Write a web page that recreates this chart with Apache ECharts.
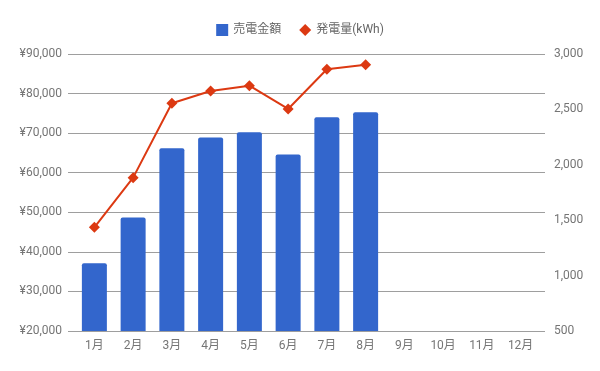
<!DOCTYPE html>
<html>
<head>
<meta charset="utf-8">
<script src="https://cdn.jsdelivr.net/npm/echarts@6/dist/echarts.min.js"></script>
<style>
html,body{margin:0;padding:0;background:#fff;}
#c{width:600px;height:371px;}
</style>
</head>
<body>
<div id="c"></div>
<script>
const months = ['1月','2月','3月','4月','5月','6月','7月','8月','9月','10月','11月','12月'];
const salesAmount = [37100, 48700, 66200, 68900, 70200, 64600, 74000, 75300, 0, 0, 0, 0];
const generation = [1436, 1884, 2555, 2666, 2714, 2504, 2862, 2904, null, null, null, null];
const seriesNames = ['売電金額', '発電量(kWh)'];

const chart = echarts.init(document.getElementById('c'));
const fontFamily = 'Roboto, "Noto Sans CJK JP", sans-serif';
const labelColor = '#757575';
chart.setOption({
  animation: false,
  textStyle: { fontFamily: fontFamily },
  legend: {
    top: 19,
    left: 'center',
    itemGap: 18,
    itemWidth: 12,
    itemHeight: 12,
    textStyle: { color: '#666666', fontSize: 12, fontFamily: fontFamily },
    data: [
      { name: seriesNames[0], icon: 'rect' },
      { name: seriesNames[1], icon: 'diamond' }
    ]
  },
  grid: [
    { left: 68, right: 55, top: 54, bottom: 40 },
    { left: 75, right: 60, top: 54, bottom: 40 }
  ],
  xAxis: [
    { gridIndex: 0, type: 'value', show: false, min: 0, max: 1 },
    {
      gridIndex: 1, type: 'category', data: months,
      axisLine: { show: false }, axisTick: { show: false },
      axisLabel: { color: labelColor, fontSize: 12, margin: 9, fontFamily: fontFamily }
    }
  ],
  yAxis: [
    {
      gridIndex: 0, type: 'value', min: 20000, max: 90000, interval: 10000,
      axisLine: { show: false }, axisTick: { show: false },
      axisLabel: { color: labelColor, fontSize: 12, margin: 6, fontFamily: fontFamily,
        formatter: v => '¥' + v.toLocaleString('en-US') },
      splitLine: { lineStyle: { color: '#9e9e9e', width: 1 } }
    },
    {
      gridIndex: 0, type: 'value', position: 'right', min: 500, max: 3000, interval: 500,
      axisLine: { show: false }, axisTick: { show: false },
      axisLabel: { color: labelColor, fontSize: 12, margin: 9, fontFamily: fontFamily,
        formatter: v => v.toLocaleString('en-US') },
      splitLine: { show: false }
    },
    { gridIndex: 1, type: 'value', min: 20000, max: 90000, interval: 10000, startValue: 20000, show: false, splitLine: { show: false } },
    { gridIndex: 1, type: 'value', position: 'right', min: 500, max: 3000, interval: 500, show: false, splitLine: { show: false } }
  ],
  series: [
    {
      name: seriesNames[0], type: 'bar', xAxisIndex: 1, yAxisIndex: 2,
      data: salesAmount, barWidth: 25,
      itemStyle: { color: '#3366cc', borderRadius: [2, 2, 0, 0] }
    },
    {
      name: seriesNames[1], type: 'line', xAxisIndex: 1, yAxisIndex: 3,
      data: generation, symbol: 'diamond', symbolSize: 11, showAllSymbol: true,
      lineStyle: { color: '#dc3912', width: 2 },
      itemStyle: { color: '#dc3912' }
    }
  ]
});
</script>
</body>
</html>
